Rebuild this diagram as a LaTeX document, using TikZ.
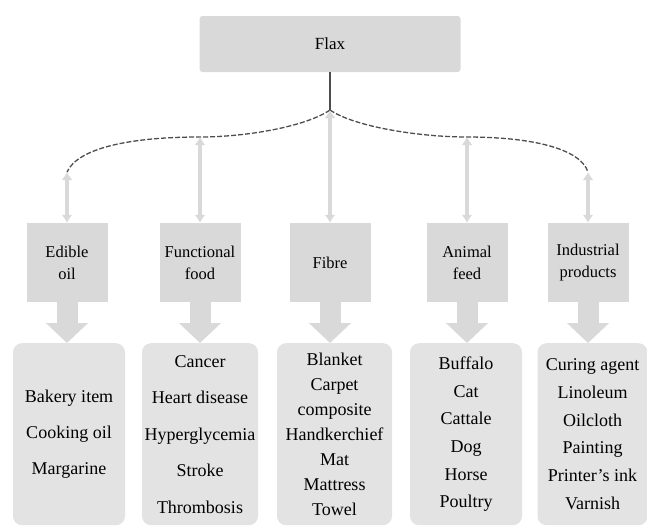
\documentclass[tikz,border=0pt]{standalone}
\usepackage{fontspec}
\setmainfont{Liberation Serif}
\usetikzlibrary{arrows.meta}
\definecolor{boxgray}{HTML}{D9D9D9}
\definecolor{listgray}{HTML}{E3E3E3}
\definecolor{linegray}{HTML}{4D4D4D}

\begin{document}
\begin{tikzpicture}[
    x=1pt, y=-1pt,
    flaxbox/.style={rectangle, fill=boxgray, rounded corners=3pt, minimum width=261pt, minimum height=56pt, font=\fontsize{17}{20}\selectfont},
    catbox/.style={rectangle, fill=boxgray, minimum width=81pt, minimum height=79pt, align=center, font=\fontsize{16.5}{22}\selectfont},
    listbox/.style={rectangle, fill=listgray, rounded corners=9pt, anchor=north, minimum height=182pt, inner xsep=0pt, align=center, font=\fontsize{18}{#1}\selectfont},
    stem/.style={draw=linegray, line width=1.2pt},
    branch/.style={draw=linegray, line width=1.3pt, dash pattern=on 5pt off 2pt},
    greyarrow/.style={draw=boxgray, line width=4.5pt, {Latex[length=8pt,width=11pt]}-{Latex[length=8pt,width=11pt]}},
    blockarrow/.style={draw=boxgray, line width=21pt, -{Triangle[width=41pt,length=20pt]}}
]
\useasboundingbox (0,0) rectangle (647,525);

%%%%%%%%%%%%%%%%%%%%%%%%%%%%%%%%%%%%%%%%%%%%%%%%%%%%%%%%%%%%%%%%%%%
% Root
%%%%%%%%%%%%%%%%%%%%%%%%%%%%%%%%%%%%%%%%%%%%%%%%%%%%%%%%%%%%%%%%%%%
\node[flaxbox] (flax) at (330, 44) {Flax};

%%%%%%%%%%%%%%%%%%%%%%%%%%%%%%%%%%%%%%%%%%%%%%%%%%%%%%%%%%%%%%%%%%%
% Uses (middle row)
%%%%%%%%%%%%%%%%%%%%%%%%%%%%%%%%%%%%%%%%%%%%%%%%%%%%%%%%%%%%%%%%%%%
\node[catbox] (edible) at (67, 262.5) {Edible\\oil};
\node[catbox] (functional) at (200, 262.5) {Functional\\food};
\node[catbox] (fibre) at (330, 262.5) {Fibre};
\node[catbox] (animal) at (467, 262.5) {Animal\\feed};
\node[catbox] (industrial) at (588, 262.5) {Industrial\\products};

%%%%%%%%%%%%%%%%%%%%%%%%%%%%%%%%%%%%%%%%%%%%%%%%%%%%%%%%%%%%%%%%%%%
% Products (bottom row)
%%%%%%%%%%%%%%%%%%%%%%%%%%%%%%%%%%%%%%%%%%%%%%%%%%%%%%%%%%%%%%%%%%%
\node[listbox=36, minimum width=112pt] (edibleList) at (69, 343)
    {Bakery item\\Cooking oil\\Margarine};
\node[listbox=36.5, minimum width=116pt] (functionalList) at (200, 343)
    {Cancer\\Heart disease\\Hyperglycemia\\Stroke\\Thrombosis};
\node[listbox=25, minimum width=115pt] (fibreList) at (334.5, 343)
    {Blanket\\Carpet\\composite\\Handkerchief\\Mat\\Mattress\\Towel};
\node[listbox=27.6, minimum width=112pt] (animalList) at (466, 343)
    {Buffalo\\Cat\\Cattale\\Dog\\Horse\\Poultry};
\node[listbox=27.8, minimum width=110pt] (industrialList) at (592.5, 343)
    {Curing agent\\Linoleum\\Oilcloth\\Painting\\Printer's ink\\Varnish};

%%%%%%%%%%%%%%%%%%%%%%%%%%%%%%%%%%%%%%%%%%%%%%%%%%%%%%%%%%%%%%%%%%%
% Branching
%%%%%%%%%%%%%%%%%%%%%%%%%%%%%%%%%%%%%%%%%%%%%%%%%%%%%%%%%%%%%%%%%%%
\coordinate (root) at (330, 110);
\coordinate (jEdible) at (67, 172);
\coordinate (jFunctional) at (200, 137);
\coordinate (jAnimal) at (467, 137);
\coordinate (jIndustrial) at (588, 172);

\draw[stem] (flax.south) -- (root);
\draw[branch] (root) .. controls (305, 127) and (245, 137) .. (jFunctional)
    .. controls (130, 137) and (78, 148) .. (jEdible);
\draw[branch] (root) .. controls (355, 127) and (420, 137) .. (jAnimal)
    .. controls (530, 137) and (580, 148) .. (jIndustrial);

%%%%%%%%%%%%%%%%%%%%%%%%%%%%%%%%%%%%%%%%%%%%%%%%%%%%%%%%%%%%%%%%%%%
% Connections - branch to use
%%%%%%%%%%%%%%%%%%%%%%%%%%%%%%%%%%%%%%%%%%%%%%%%%%%%%%%%%%%%%%%%%%%
\draw[greyarrow] (jEdible) -- (edible.north);
\draw[greyarrow] (jFunctional) -- (functional.north);
\draw[greyarrow] (root) -- (fibre.north);
\draw[greyarrow] (jAnimal) -- (animal.north);
\draw[greyarrow] (jIndustrial) -- (industrial.north);

%%%%%%%%%%%%%%%%%%%%%%%%%%%%%%%%%%%%%%%%%%%%%%%%%%%%%%%%%%%%%%%%%%%
% Connections - use to products
%%%%%%%%%%%%%%%%%%%%%%%%%%%%%%%%%%%%%%%%%%%%%%%%%%%%%%%%%%%%%%%%%%%
\draw[blockarrow] (edible.south) -- (edible.south |- edibleList.north);
\draw[blockarrow] (functional.south) -- (functional.south |- functionalList.north);
\draw[blockarrow] (fibre.south) -- (fibre.south |- fibreList.north);
\draw[blockarrow] (animal.south) -- (animal.south |- animalList.north);
\draw[blockarrow] (industrial.south) -- (industrial.south |- industrialList.north);

\end{tikzpicture}
\end{document}
